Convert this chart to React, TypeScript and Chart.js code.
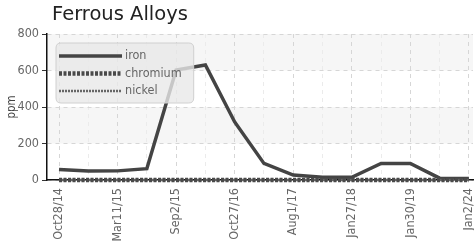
import React, { useEffect, useRef } from "react";
import { Chart, registerables } from "chart.js";

Chart.register(...registerables);

const categories = [
  "Oct28/14", "", "Mar11/15", "", "Sep2/15", "", "Oct27/16", "",
  "Aug1/17", "", "Jan27/18", "", "Jan30/19", "", "Jan2/24",
];
const ironValues = [58, 49, 50, 62, 603, 630, 318, 91, 27, 15, 15, 91, 91, 10, 8];
const chromiumValues = [0, 0, 0, 0, 0, 0, 0, 0, 0, 0, 0, 0, 0, 0, 0];
const nickelValues = [0, 0, 0, 0, 0, 0, 0, 0, 0, 0, 0, 0, 0, 0, 0];
const yTicks = [0, 200, 400, 600, 800];
const titleText = "Ferrous Alloys";
const yTitle = "ppm";

const NARROW = "'DejaVu Sans Condensed', 'DejaVu Sans', sans-serif";

export default function App() {
  const ref = useRef<HTMLCanvasElement | null>(null);

  useEffect(() => {
    document.body.style.margin = "0";
    const canvas = ref.current;
    if (!canvas) return;
    const toXY = (arr: number[]) => arr.map((v, i) => ({ x: i, y: v }));

    const bandsPlugin = {
      id: "bands",
      beforeDraw(chart: any) {
        const { ctx, chartArea, scales } = chart;
        const y = scales.y;
        ctx.save();
        ctx.fillStyle = "#f6f6f6";
        const bands = [[600, 800], [200, 400]];
        for (const [a, b] of bands) {
          const top = y.getPixelForValue(b);
          const bot = y.getPixelForValue(a);
          ctx.fillRect(chartArea.left, top, chartArea.right - chartArea.left, bot - top);
        }
        ctx.restore();
      },
    };

    const titlePlugin = {
      id: "customTitle",
      afterDraw(chart: any) {
        const { ctx } = chart;
        ctx.save();
        ctx.font = "19.5px 'DejaVu Sans', sans-serif";
        ctx.fillStyle = "#222";
        ctx.textBaseline = "alphabetic";
        ctx.textAlign = "left";
        ctx.fillText(titleText, 52, 19.5);
        ctx.restore();
      },
    };

    const legendPlugin = {
      id: "insideLegend",
      afterDatasetsDraw(chart: any) {
        const { ctx, chartArea } = chart;
        const ds = chart.data.datasets;
        ctx.save();
        ctx.font = "12.5px " + NARROW;
        let maxW = 0;
        ds.forEach((d: any) => {
          maxW = Math.max(maxW, ctx.measureText(d.label).width);
        });
        const left = chartArea.left + 9;
        const top = chartArea.top + 9;
        const sample = 63;
        const w = 3 + sample + 3 + maxW + 12;
        const rowH = 17.5;
        const h = 60;
        const r = 5;
        ctx.beginPath();
        ctx.moveTo(left + r, top);
        ctx.lineTo(left + w - r, top);
        ctx.quadraticCurveTo(left + w, top, left + w, top + r);
        ctx.lineTo(left + w, top + h - r);
        ctx.quadraticCurveTo(left + w, top + h, left + w - r, top + h);
        ctx.lineTo(left + r, top + h);
        ctx.quadraticCurveTo(left, top + h, left, top + h - r);
        ctx.lineTo(left, top + r);
        ctx.quadraticCurveTo(left, top, left + r, top);
        ctx.closePath();
        ctx.fillStyle = "rgba(232,232,232,0.8)";
        ctx.fill();
        ctx.strokeStyle = "#d0d0d0";
        ctx.lineWidth = 1;
        ctx.stroke();
        ds.forEach((d: any, i: number) => {
          const cy = top + 13 + i * rowH;
          ctx.beginPath();
          ctx.setLineDash(d.borderDash || []);
          ctx.strokeStyle = d.borderColor;
          ctx.lineWidth = d.borderWidth;
          ctx.moveTo(left + 3, cy);
          ctx.lineTo(left + 3 + sample, cy);
          ctx.stroke();
          ctx.setLineDash([]);
          ctx.fillStyle = "#666";
          ctx.textBaseline = "middle";
          ctx.textAlign = "left";
          ctx.fillText(d.label, left + 3 + sample + 3, cy);
        });
        ctx.restore();
      },
    };

    const chart = new Chart(canvas, {
      type: "line",
      data: {
        datasets: [
          {
            label: "iron",
            data: toXY(ironValues),
            borderColor: "#444444",
            borderWidth: 3.5,
            pointRadius: 0,
            tension: 0,
            clip: 5,
            order: 3,
          },
          {
            label: "chromium",
            data: toXY(chromiumValues),
            borderColor: "#4a4a4a",
            borderWidth: 4.5,
            borderDash: [3, 1.5],
            pointRadius: 0,
            tension: 0,
            clip: 5,
            order: 1,
          },
          {
            label: "nickel",
            data: toXY(nickelValues),
            borderColor: "#666666",
            borderWidth: 2.5,
            borderDash: [2, 1],
            pointRadius: 0,
            tension: 0,
            clip: 5,
            order: 2,
          },
        ],
      },
      options: {
        animation: false,
        responsive: false,
        maintainAspectRatio: false,
        layout: { padding: { top: 34, right: 1, left: 0, bottom: 0 } },
        plugins: {
          legend: { display: false },
          title: { display: false },
          tooltip: { enabled: false },
        },
        scales: {
          x: {
            type: "linear",
            min: -0.41,
            max: 14.14,
            afterBuildTicks(scale: any) {
              scale.ticks = categories.map((_, i) => ({ value: i }));
            },
            afterFit(scale: any) {
              scale.height = 63;
              scale.paddingLeft = 0;
              scale.paddingRight = 0;
            },
            ticks: {
              autoSkip: false,
              maxRotation: 90,
              minRotation: 90,
              padding: 8,
              color: "#666",
              font: { family: NARROW, size: 12.5 },
              callback: (v: any) => categories[Math.round(Number(v))] ?? "",
            },
            grid: {
              drawTicks: false,
              color: (c: any) => {
                const i = Math.round(c.tick?.value ?? 0);
                return categories[i] ? "#d6d6d6" : "#ebebeb";
              },
              lineWidth: 1,
            },
            border: { display: true, color: "#111", width: 1.5, dash: [4, 4] },
          },
          y: {
            min: 0,
            max: 800,
            afterBuildTicks(scale: any) {
              scale.ticks = yTicks.map((v) => ({ value: v }));
            },
            afterFit(scale: any) {
              scale.width = 47;
            },
            ticks: {
              padding: 3,
              color: "#666",
              font: { family: NARROW, size: 12.5 },
            },
            title: {
              display: true,
              text: yTitle,
              color: "#444",
              font: { family: NARROW, size: 11.5 },
              padding: { top: 5, bottom: 0 },
            },
            grid: {
              color: "#d6d6d6",
              tickColor: "#333",
              tickLength: 5,
              tickBorderDash: [],
              lineWidth: 1,
            },
            border: { display: true, color: "#111", width: 1.5, dash: [4, 4] },
          },
        },
      },
      plugins: [bandsPlugin, legendPlugin, titlePlugin],
    } as any);

    return () => chart.destroy();
  }, []);

  return (
    <div style={{ width: 474, height: 243 }}>
      <canvas ref={ref} width={474} height={243} style={{ display: "block" }} />
    </div>
  );
}
